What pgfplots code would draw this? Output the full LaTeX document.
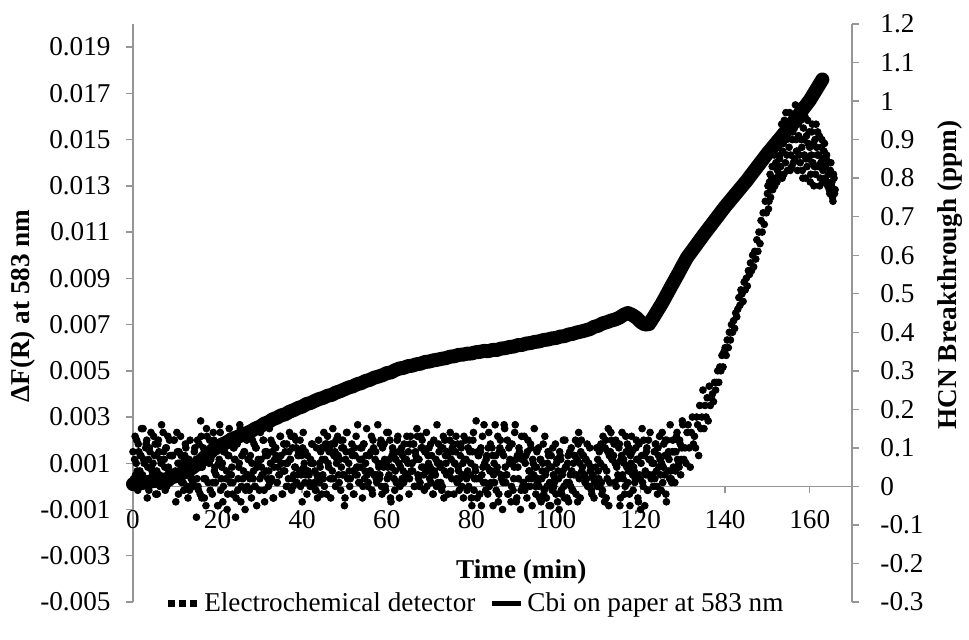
\documentclass[border=0pt]{standalone}
\usepackage{pgfplots}
\pgfplotsset{compat=1.18}
\usepackage{fontspec}
\setmainfont{Liberation Serif}
\definecolor{axgray}{RGB}{150,150,150}
\begin{document}
\fontsize{13.6}{16}\selectfont
\begin{tikzpicture}
\pgfplotsset{
  common/.style={
    scale only axis, width=359.5pt, height=289pt,
    at={(0pt,0pt)}, anchor=south west,
    xmin=0, xmax=170, clip=false,
    axis line style={draw=axgray, line width=0.7pt},
    tick style={draw=axgray, line width=0.7pt},
    major tick length=3.5pt,
    tick align=outside,
    scaled ticks=false,
  }
}
\begin{axis}[common,
  axis x line*=middle, axis y line*=left,
  hide obscured x ticks=false,
  ymin=-0.005, ymax=0.020,
  xtick={0,20,40,60,80,100,120,140,160},
  xticklabels={0,20,40,60,80,100,120,140,160},
  ytick={-0.005,-0.003,-0.001,0.001,0.003,0.005,0.007,0.009,0.011,0.013,0.015,0.017,0.019},
  yticklabels={-0.005,-0.003,-0.001,0.001,0.003,0.005,0.007,0.009,0.011,0.013,0.015,0.017,0.019},
  xticklabel style={yshift=-4pt},
  yticklabel style={xshift=-3pt},
  legend columns=2,
  legend style={at={(0.477,-0.003)}, anchor=center, draw=none, fill=none,
    /tikz/every even column/.append style={column sep=5pt},
    legend cell align=left},
  legend image code/.code={\draw[#1] (0pt,0pt) -- (14.5pt,0pt);},
]
\addlegendimage{black, line width=3.4pt, dash pattern=on 3.4pt off 2.15pt}
\addlegendentry{Electrochemical detector}
\addlegendimage{black, line width=2.5pt}
\addlegendentry{Cbi on paper at 583 nm}
\addplot[black, line width=7pt, line join=round, line cap=round, forget plot] table {
x y
0 0.00010
1 0.00012
2 0.00016
3 0.00017
4 0.00020
5 0.00024
6 0.00025
7 0.00029
8 0.00030
9 0.00038
10 0.00044
11 0.00053
12 0.00060
13 0.00070
14 0.00080
15 0.00094
16 0.00110
17 0.00128
18 0.00142
19 0.00160
20 0.00170
21 0.00181
22 0.00189
23 0.00200
24 0.00209
25 0.00216
26 0.00226
27 0.00231
28 0.00240
29 0.00251
30 0.00258
31 0.00271
32 0.00278
33 0.00290
34 0.00297
35 0.00307
36 0.00312
37 0.00323
38 0.00330
39 0.00339
40 0.00345
41 0.00356
42 0.00361
43 0.00370
44 0.00378
45 0.00383
46 0.00392
47 0.00396
48 0.00406
49 0.00412
50 0.00420
51 0.00428
52 0.00433
53 0.00442
54 0.00447
55 0.00456
56 0.00461
57 0.00470
58 0.00475
59 0.00481
60 0.00490
61 0.00493
62 0.00503
63 0.00510
64 0.00513
65 0.00520
66 0.00522
67 0.00528
68 0.00531
69 0.00538
70 0.00540
71 0.00545
72 0.00548
73 0.00552
74 0.00555
75 0.00561
76 0.00563
77 0.00569
78 0.00570
79 0.00574
80 0.00575
81 0.00580
82 0.00582
83 0.00586
84 0.00585
85 0.00590
86 0.00590
87 0.00596
88 0.00598
89 0.00603
90 0.00605
91 0.00611
92 0.00612
93 0.00618
94 0.00620
95 0.00625
96 0.00627
97 0.00633
98 0.00635
99 0.00640
100 0.00642
101 0.00648
102 0.00650
103 0.00657
104 0.00660
105 0.00666
106 0.00670
107 0.00675
108 0.00680
109 0.00690
110 0.00695
111 0.00705
112 0.00710
113 0.00717
114 0.00722
115 0.00730
116 0.00742
117 0.00750
118 0.00742
119 0.00730
120 0.00712
121 0.00700
122 0.00702
123 0.00730
124 0.00760
125 0.00790
126 0.00823
127 0.00857
128 0.00890
129 0.00923
130 0.00957
131 0.00990
132 0.01015
133 0.01040
134 0.01065
135 0.01090
136 0.01114
137 0.01138
138 0.01162
139 0.01186
140 0.01210
141 0.01232
142 0.01254
143 0.01276
144 0.01298
145 0.01320
146 0.01344
147 0.01368
148 0.01392
149 0.01416
150 0.01440
151 0.01462
152 0.01484
153 0.01506
154 0.01528
155 0.01550
156 0.01574
157 0.01598
158 0.01622
159 0.01646
160 0.01670
161 0.01700
162 0.01730
163 0.01760
};
\node[rotate=90, font=\bfseries] at (rel axis cs:-0.153,0.512) {ΔF(R) at 583 nm};
\node[font=\bfseries] at (rel axis cs:0.540,0.052) {Time (min)};
\node[rotate=90, font=\bfseries] at (rel axis cs:1.136,0.566) {HCN Breakthrough (ppm)};
\end{axis}
\begin{axis}[common,
  axis y line*=right, axis x line=none,
  ymin=-0.3, ymax=1.2,
  ytick={-0.3,-0.2,-0.1,0,0.1,0.2,0.3,0.4,0.5,0.6,0.7,0.8,0.9,1,1.1,1.2},
  yticklabels={-0.3,-0.2,-0.1,0,0.1,0.2,0.3,0.4,0.5,0.6,0.7,0.8,0.9,1,1.1,1.2},
  yticklabel style={xshift=6pt},
]
\addplot[only marks, mark=*, mark size=1.7pt, black] coordinates {
(0,.09)(0.25,.02)(0.5,.13)(0.75,.06)(1,.04)(1.25,.11)(1.5,.00)(1.75,.08)(2,.15)(2.25,.03)(2.5,.07)(2.75,.01)(3,.10)(3.25,.12)(3.5,.05)(3.75,-.01)(4,.09)(4.25,.14)(4.5,.04)(4.75,.06)(5,.02)(5.25,.11)(5.5,.08)(5.75,-.02)(6,.12)(6.25,.03)(6.5,.07)(6.75,.16)(7,.01)(7.25,.09)(7.5,.05)(7.75,.10)(8,.00)(8.25,.13)(8.5,.04)(8.75,.08)(9,.03)(9.25,.08)(9.5,.03)(9.75,.12)
(10,.04)(10.25,.02)(10.5,.09)(10.75,-.02)(11,.06)(11.25,.13)(11.5,.01)(11.75,.05)(12,-.01)(12.25,.08)(12.5,.10)(12.75,.03)(13,-.03)(13.25,.07)(13.5,.12)(13.75,.02)(14,.04)(14.25,.00)(14.5,.09)(14.75,.06)
(15,-.08)(15.25,.12)(15.5,-.01)(15.75,.05)(16,.17)(16.25,-.03)(16.5,.08)(16.75,.02)(17,.09)(17.25,-.05)(17.5,.13)(17.75,.01)(18,.06)(18.25,-.01)(18.5,.08)(18.75,-.02)(19,.14)(19.25,.04)(19.5,.01)(19.75,.10)(20,-.05)(20.25,.06)(20.5,.16)(20.75,-.01)(21,.05)(21.25,-.04)(21.5,.09)(21.75,.12)(22,.02)(22.25,-.06)(22.5,.08)(22.75,.15)(23,.01)(23.25,.03)(23.5,-.02)(23.75,.10)(24,.07)(24.25,-.08)(24.5,.11)(24.75,-.01)(25,.05)(25.25,.16)(25.5,-.04)(25.75,.08)(26,.02)(26.25,.09)(26.5,-.06)(26.75,.13)(27,.00)(27.25,.07)(27.5,-.01)(27.75,.08)(28,-.03)(28.25,.12)(28.5,.04)(28.75,.00)(29,.10)(29.25,-.05)(29.5,.06)(29.75,.15)
(30,.02)(30.25,.07)(30.5,.03)(30.75,.12)(31,-.01)(31.25,.09)(31.5,.04)(31.75,.08)(32,.00)(32.25,.15)(32.5,.06)(32.75,.02)(33,.11)(33.25,-.03)(33.5,.07)(33.75,.10)(34,.01)(34.25,.05)(34.5,.03)(34.75,.13)(35,.08)(35.25,-.02)(35.5,.04)(35.75,.11)(36,.09)(36.25,.00)(36.5,.06)(36.75,.02)(37,.14)(37.25,.07)(37.5,-.01)(37.75,.10)(38,.03)(38.25,.05)(38.5,.12)(38.75,.01)(39,.08)
(39.25,.08)(39.5,.12)(39.75,.03)(40,-.04)(40.25,.14)(40.5,.06)(40.75,.09)(41,.04)(41.25,.08)(41.5,.03)(41.75,.01)(42,.07)(42.25,.11)(42.5,.06)(42.75,.00)(43,.04)(43.25,-.01)(43.5,.03)(43.75,.02)(44,.01)(44.25,.05)(44.5,.10)(44.75,.07)(45,.02)(45.25,.00)(45.5,.11)(45.75,-.02)(46,.13)(46.25,.05)(46.5,.10)(46.75,-.03)(47,.02)(47.25,.15)(47.5,.08)(47.75,.09)(48,.12)(48.25,.07)
(48.5,.08)(48.75,.01)(49,.12)(49.25,.05)(49.5,.03)(49.75,.10)(50,-.05)(50.25,.07)(50.5,.14)(50.75,.02)(51,.06)(51.25,.00)(51.5,.09)(51.75,.11)(52,.04)(52.25,-.02)(52.5,.08)(52.75,.13)(53,.03)(53.25,.05)(53.5,.01)(53.75,.10)(54,.07)(54.25,-.03)(54.5,.11)(54.75,.02)(55,.06)(55.25,.15)(55.5,.00)(55.75,.08)(56,.04)(56.25,.09)(56.5,-.01)(56.75,.12)(57,.03)(57.25,.07)(57.5,.02)
(57.75,.03)(58,.06)(58.25,.02)(58.5,.11)(58.75,.00)(59,.10)(59.25,.05)(59.5,.07)(59.75,-.01)(60,.14)(60.25,.05)(60.5,.03)(60.75,.12)(61,-.04)(61.25,.08)(61.5,.09)(61.75,.02)(62,.04)(62.25,.01)(62.5,.12)(62.75,.09)(63,-.03)(63.25,.05)(63.5,.10)(63.75,.08)(64,.01)(64.25,.07)(64.5,.03)(64.75,.13)(65,.06)(65.25,-.02)(65.5,.11)(65.75,.04)(66,.06)(66.25,.11)(66.5,.00)(66.75,.09)
(67,.07)(67.25,.13)(67.5,.02)(67.75,.00)(68,.13)(68.25,.05)(68.5,.10)(68.75,.03)(69,.09)(69.25,.04)(69.5,.00)(69.75,.08)(70,.10)(70.25,.05)(70.5,.01)(70.75,.03)(71,-.02)(71.25,.04)(71.5,.03)(71.75,.00)(72,.06)(72.25,.11)(72.5,.06)(72.75,.01)(73,-.01)(73.25,.10)(73.5,-.03)(73.75,.12)(74,.06)(74.25,.09)(74.5,-.02)(74.75,.03)(75,.14)(75.25,.07)(75.5,.10)(75.75,.11)(76,.06)
(76.25,.09)(76.5,.02)(76.75,.11)(77,.04)(77.25,.02)(77.5,.11)(77.75,.00)(78,.06)(78.25,.13)(78.5,.03)(78.75,.07)(79,-.01)(79.25,.10)(79.5,.12)(79.75,.03)(80,-.03)(80.25,.09)(80.5,.14)(80.75,.02)(81,.04)(81.25,.02)(81.5,.09)(81.75,.08)(82,-.02)(82.25,.10)(82.5,.03)(82.75,.05)(83,.16)(83.25,.01)(83.5,.07)(83.75,.05)(84,.10)(84.25,.00)(84.5,.11)(84.75,.04)(85,.08)(85.25,.03)
(85.5,.01)(85.75,.08)(86,.04)(86.25,.13)(86.5,-.02)(86.75,.10)(87,.03)(87.25,.09)(87.5,.01)(87.75,.16)(88,.05)(88.25,.03)(88.5,.12)(88.75,-.02)(89,.06)(89.25,.11)(89.5,.00)(89.75,.06)(90,.02)(90.25,.14)(90.5,.07)(90.75,-.03)(91,.05)(91.25,.10)(91.5,.08)(91.75,-.01)(92,.07)(92.25,.01)(92.5,.13)(92.75,.06)(93,.00)(93.25,.09)(93.5,.02)(93.75,.04)(94,.11)(94.25,.02)(94.5,.07)(94.75,.03)
(95,.05)(95.25,-.02)(95.5,.09)(95.75,.02)(96,.00)(96.25,.07)(96.5,-.04)(96.75,.04)(97,.11)(97.25,-.01)(97.5,.03)(97.75,-.03)(98,.06)(98.25,.08)(98.5,.01)(98.75,-.05)(99,.05)(99.25,.10)(99.5,.00)(99.75,.02)(100,-.02)(100.25,.07)(100.5,.04)(100.75,-.06)(101,.08)(101.25,-.01)(101.5,.03)(101.75,.12)(102,-.03)(102.25,.05)(102.5,.01)(102.75,.06)(103,-.04)(103.25,.09)(103.5,.00)(103.75,.04)(104,-.01)(104.25,.03)(104.5,.08)(104.75,-.02)
(105,.07)(105.25,.11)(105.5,.02)(105.75,-.03)(106,.12)(106.25,.05)(106.5,.08)(106.75,.03)(107,.07)(107.25,.02)(107.5,.00)(107.75,.06)(108,.10)(108.25,.05)(108.5,-.02)(108.75,.03)(109,-.03)(109.25,.02)(109.5,.01)(109.75,.00)(110,.04)(110.25,.09)(110.5,.06)(110.75,.01)(111,-.01)(111.25,.10)(111.5,-.04)(111.75,.12)(112,.04)(112.25,.09)(112.5,-.05)(112.75,.01)(113,.14)(113.25,.07)(113.5,.08)(113.75,.11)(114,.06)
(114.25,.00)(114.5,.06)(114.75,.02)(115,.11)(115.25,-.03)(115.5,.08)(115.75,.03)(116,.07)(116.25,-.02)(116.5,.13)(116.75,.05)(117,.01)(117.25,.10)(117.5,-.05)(117.75,.06)(118,.09)(118.25,-.01)(118.5,.04)(118.75,.02)(119,.12)(119.25,.07)(119.5,-.04)(119.75,.03)
(120,-.06)(120.25,.08)(120.5,.01)(120.75,.12)(121,-.05)(121.25,.03)(121.5,.10)(121.75,-.01)(122,.07)(122.25,.14)(122.5,.02)(122.75,.06)(123,.00)(123.25,.09)(123.5,.11)(123.75,.04)(124,-.02)(124.25,.08)(124.5,.13)(124.75,.03)(125,.06)(125.25,.01)(125.5,.11)(125.75,.08)(126,-.02)(126.25,.12)(126.5,.04)(126.75,.07)(127,.16)(127.25,.02)(127.5,.09)(127.75,.05)
(128,.09)(128.25,.04)(128.5,.13)(128.75,.07)(129,.06)(129.25,.12)(129.5,.03)(129.75,.10)(130,.16)(130.25,.07)(130.5,.10)(130.75,.06)(131,.14)(131.25,.16)(131.5,.10)(131.75,.05)(132,.14)(132.25,.18)(132.5,.11)(132.75,.13)(133,.10)(133.25,.18)(133.5,.16)(133.75,.08)(134,.21)(134.25,.15)(134.5,.18)(134.75,.25)(135,.15)(135.25,.21)(135.5,.18)(135.75,.23)(136,.17)(136.25,.26)(136.5,.21)(136.75,.23)
(137,.24)(137.25,.22)(137.5,.27)(137.75,.25)(138,.27)(138.25,.30)(138.5,.27)(138.75,.31)(139,.30)(139.25,.34)(139.5,.31)(139.75,.35)(140,.36)(140.25,.34)(140.5,.38)(140.75,.36)(141,.40)(141.25,.38)(141.5,.42)(141.75,.40)(142,.43)(142.25,.41)(142.5,.45)(142.75,.44)(143,.46)(143.25,.49)(143.5,.47)(143.75,.51)(144,.50)(144.25,.48)(144.5,.53)(144.75,.51)(145,.54)(145.25,.52)(145.5,.56)(145.75,.55)(146,.58)(146.25,.56)(146.5,.60)(146.75,.57)(147,.61)(147.25,.59)(147.5,.64)(147.75,.61)(148,.66)(148.25,.63)(148.5,.69)(148.75,.66)(149,.71)(149.25,.68)(149.5,.74)(149.75,.71)(150,.76)(150.25,.72)(150.5,.79)(150.75,.75)(151,.80)(151.25,.77)(151.5,.83)(151.75,.78)
(152,.84)(152.25,.79)(152.5,.88)(152.75,.81)(153,.86)(153.25,.92)(153.5,.80)(153.75,.89)(154,.95)(154.25,.84)(154.5,.90)(154.75,.82)(155,.93)(155.25,.97)(155.5,.86)(155.75,.83)(156,.92)(156.25,.96)(156.5,.85)(156.75,.90)(157,.87)(157.25,.94)(157.5,.98)(157.75,.84)(158,.90)(158.25,.82)(158.5,.93)(158.75,.86)(159,.80)(159.25,.91)(159.5,.95)(159.75,.85)(160,.88)(160.25,.81)(160.5,.92)(160.75,.84)(161,.78)(161.25,.90)(161.5,.94)(161.75,.86)(162,.83)(162.25,.91)(162.5,.80)(162.75,.88)(163,.85)(163.25,.79)(163.5,.89)(163.75,.83)(164,.86)(164.25,.78)(164.5,.81)(164.75,.76)(165,.84)(165.25,.79)(165.5,.74)(165.75,.80)(166,.77)
(0.125,.02)(0.375,.07)(0.625,.03)(0.875,.12)(1.125,-.01)(1.375,.09)(1.625,.04)(1.875,.08)(2.125,.00)(2.375,.15)(2.625,.06)(2.875,.02)(3.125,.11)(3.375,-.03)(3.625,.07)(3.875,.10)(4.125,.01)(4.375,.05)(4.625,.03)(4.875,.13)(5.125,.08)(5.375,-.02)(5.625,.04)(5.875,.11)(6.125,.09)(6.375,.00)(6.625,.06)(6.875,.02)(7.125,.14)(7.375,.07)(7.625,-.01)(7.875,.10)(8.125,.03)(8.375,.05)(8.625,.12)(8.875,.01)(9.125,.08)
(9.375,.08)(9.625,.12)(9.875,.03)(10.125,-.04)(10.375,.14)(10.625,.06)(10.875,.09)(11.125,.04)(11.375,.08)(11.625,.03)(11.875,.01)(12.125,.07)(12.375,.11)(12.625,.06)(12.875,.00)(13.125,.04)(13.375,-.01)(13.625,.03)(13.875,.02)(14.125,.01)(14.375,.05)(14.625,.10)(14.875,.07)(15.125,.02)(15.375,.00)(15.625,.11)(15.875,-.02)(16.125,.13)(16.375,.05)(16.625,.10)(16.875,-.03)(17.125,.02)(17.375,.15)(17.625,.08)(17.875,.09)(18.125,.12)(18.375,.07)
(18.625,.08)(18.875,.01)(19.125,.12)(19.375,.05)(19.625,.03)(19.875,.10)(20.125,-.05)(20.375,.07)(20.625,.14)(20.875,.02)(21.125,.06)(21.375,.00)(21.625,.09)(21.875,.11)(22.125,.04)(22.375,-.02)(22.625,.08)(22.875,.13)(23.125,.03)(23.375,.05)(23.625,.01)(23.875,.10)(24.125,.07)(24.375,-.03)(24.625,.11)(24.875,.02)(25.125,.06)(25.375,.15)(25.625,.00)(25.875,.08)(26.125,.04)(26.375,.09)(26.625,-.01)(26.875,.12)(27.125,.03)(27.375,.07)(27.625,.02)
(27.875,.03)(28.125,.06)(28.375,.02)(28.625,.11)(28.875,.00)(29.125,.10)(29.375,.05)(29.625,.07)(29.875,-.01)(30.125,.14)(30.375,.05)(30.625,.03)(30.875,.12)(31.125,-.04)(31.375,.08)(31.625,.09)(31.875,.02)(32.125,.04)(32.375,.01)(32.625,.12)(32.875,.09)(33.125,-.03)(33.375,.05)(33.625,.10)(33.875,.08)(34.125,.01)(34.375,.07)(34.625,.03)(34.875,.13)(35.125,.06)(35.375,-.02)(35.625,.11)(35.875,.04)(36.125,.06)(36.375,.11)(36.625,.00)(36.875,.09)
(37.125,.07)(37.375,.13)(37.625,.02)(37.875,.00)(38.125,.13)(38.375,.05)(38.625,.10)(38.875,.03)(39.125,.09)(39.375,.04)(39.625,.00)(39.875,.08)(40.125,.10)(40.375,.05)(40.625,.01)(40.875,.03)(41.125,-.02)(41.375,.04)(41.625,.03)(41.875,.00)(42.125,.06)(42.375,.11)(42.625,.06)(42.875,.01)(43.125,-.01)(43.375,.10)(43.625,-.03)(43.875,.12)(44.125,.06)(44.375,.09)(44.625,-.02)(44.875,.03)(45.125,.14)(45.375,.07)(45.625,.10)(45.875,.11)(46.125,.06)
(46.375,.09)(46.625,.02)(46.875,.11)(47.125,.04)(47.375,.02)(47.625,.11)(47.875,.00)(48.125,.06)(48.375,.13)(48.625,.03)(48.875,.07)(49.125,-.01)(49.375,.10)(49.625,.12)(49.875,.03)(50.125,-.03)(50.375,.09)(50.625,.14)(50.875,.02)(51.125,.04)(51.375,.02)(51.625,.09)(51.875,.08)(52.125,-.02)(52.375,.10)(52.625,.03)(52.875,.05)(53.125,.16)(53.375,.01)(53.625,.07)(53.875,.05)(54.125,.10)(54.375,.00)(54.625,.11)(54.875,.04)(55.125,.08)(55.375,.03)
(55.625,.01)(55.875,.08)(56.125,.04)(56.375,.13)(56.625,-.02)(56.875,.10)(57.125,.03)(57.375,.09)(57.625,.01)(57.875,.16)(58.125,.05)(58.375,.03)(58.625,.12)(58.875,-.02)(59.125,.06)(59.375,.11)(59.625,.00)(59.875,.06)(60.125,.02)(60.375,.14)(60.625,.07)(60.875,-.03)(61.125,.05)(61.375,.10)(61.625,.08)(61.875,-.01)(62.125,.07)(62.375,.01)(62.625,.13)(62.875,.06)(63.125,.00)(63.375,.09)(63.625,.02)(63.875,.04)(64.125,.11)(64.375,.02)(64.625,.07)(64.875,.03)
(65.125,.09)(65.375,.02)(65.625,.13)(65.875,.06)(66.125,.04)(66.375,.11)(66.625,.00)(66.875,.08)(67.125,.15)(67.375,.03)(67.625,.07)(67.875,.01)(68.125,.10)(68.375,.12)(68.625,.05)(68.875,-.01)(69.125,.09)(69.375,.14)(69.625,.04)(69.875,.06)(70.125,.02)(70.375,.11)(70.625,.08)(70.875,-.02)(71.125,.12)(71.375,.03)(71.625,.07)(71.875,.16)(72.125,.01)(72.375,.09)(72.625,.05)(72.875,.10)(73.125,.00)(73.375,.13)(73.625,.04)(73.875,.08)(74.125,.03)(74.375,.08)(74.625,.03)(74.875,.12)
(75.125,.04)(75.375,.02)(75.625,.09)(75.875,-.02)(76.125,.06)(76.375,.13)(76.625,.01)(76.875,.05)(77.125,-.01)(77.375,.08)(77.625,.10)(77.875,.03)(78.125,-.03)(78.375,.07)(78.625,.12)(78.875,.02)(79.125,.04)(79.375,.00)(79.625,.09)(79.875,.06)
(80.125,-.05)(80.375,.12)(80.625,-.01)(80.875,.05)(81.125,.17)(81.375,-.03)(81.625,.08)(81.875,.02)(82.125,.09)(82.375,-.05)(82.625,.13)(82.875,.01)(83.125,.06)(83.375,-.01)(83.625,.08)(83.875,-.02)(84.125,.14)(84.375,.04)(84.625,.01)(84.875,.10)(85.125,-.05)(85.375,.06)(85.625,.16)(85.875,-.01)(86.125,.05)(86.375,-.04)(86.625,.09)(86.875,.12)(87.125,.02)(87.375,-.06)(87.625,.08)(87.875,.15)(88.125,.01)(88.375,.03)(88.625,-.02)(88.875,.10)(89.125,.07)(89.375,-.04)(89.625,.11)(89.875,-.01)(90.125,.05)(90.375,.16)(90.625,-.04)(90.875,.08)(91.125,.02)(91.375,.09)(91.625,-.06)(91.875,.13)(92.125,.00)(92.375,.07)(92.625,-.01)(92.875,.08)(93.125,-.03)(93.375,.12)(93.625,.04)(93.875,.00)(94.125,.10)(94.375,-.05)(94.625,.06)(94.875,.15)
(95.125,.00)(95.375,.05)(95.625,.01)(95.875,.10)(96.125,-.03)(96.375,.07)(96.625,.02)(96.875,.06)(97.125,-.02)(97.375,.13)(97.625,.04)(97.875,.00)(98.125,.09)(98.375,-.05)(98.625,.05)(98.875,.08)(99.125,-.01)(99.375,.03)(99.625,.01)(99.875,.11)(100.125,.06)(100.375,-.04)(100.625,.02)(100.875,.09)(101.125,.07)(101.375,-.02)(101.625,.04)(101.875,.00)(102.125,.12)(102.375,.05)(102.625,-.03)(102.875,.08)(103.125,.01)(103.375,.03)(103.625,.10)(103.875,-.01)(104.125,.06)
(104.375,.08)(104.625,.12)(104.875,.03)(105.125,-.04)(105.375,.14)(105.625,.06)(105.875,.09)(106.125,.04)(106.375,.08)(106.625,.03)(106.875,.01)(107.125,.07)(107.375,.11)(107.625,.06)(107.875,.00)(108.125,.04)(108.375,-.01)(108.625,.03)(108.875,.02)(109.125,.01)(109.375,.05)(109.625,.10)(109.875,.07)(110.125,.02)(110.375,.00)(110.625,.11)(110.875,-.02)(111.125,.13)(111.375,.05)(111.625,.10)(111.875,-.03)(112.125,.02)(112.375,.15)(112.625,.08)(112.875,.09)(113.125,.12)(113.375,.07)
(113.625,.08)(113.875,.01)(114.125,.12)(114.375,.05)(114.625,.03)(114.875,.10)(115.125,-.05)(115.375,.07)(115.625,.14)(115.875,.02)(116.125,.06)(116.375,.00)(116.625,.09)(116.875,.11)(117.125,.04)(117.375,-.02)(117.625,.08)(117.875,.13)(118.125,.03)(118.375,.05)(118.625,.01)(118.875,.10)(119.125,.07)(119.375,-.03)(119.625,.11)(119.875,.02)(120.125,.06)(120.375,.15)(120.625,.00)(120.875,.08)(121.125,.04)(121.375,.09)(121.625,-.01)(121.875,.12)(122.125,.03)(122.375,.07)(122.625,.02)
(122.875,.03)(123.125,.06)(123.375,.02)(123.625,.11)(123.875,.00)(124.125,.10)(124.375,.05)(124.625,.07)(124.875,-.01)(125.125,.14)(125.375,.05)(125.625,.03)(125.875,.12)(126.125,-.04)(126.375,.08)(126.625,.09)(126.875,.02)(127.125,.04)(127.375,.01)(127.625,.12)(127.875,.09)(128.125,.01)(128.375,.09)(128.625,.14)(128.875,.12)(129.125,.05)(129.375,.11)(129.625,.07)(129.875,.17)
(150.125,.78)(150.375,.74)(150.625,.81)(150.875,.77)(151.125,.83)(151.375,.79)(151.625,.86)(151.875,.80)(152.125,.88)(152.375,.82)(152.625,.91)(152.875,.85)(153.125,.83)(153.375,.94)(153.625,.87)(153.875,.81)(154.125,.91)(154.375,.97)(154.625,.86)(154.875,.92)(155.125,.88)(155.375,.82)(155.625,.95)(155.875,.90)(156.125,.84)(156.375,.93)(156.625,.99)(156.875,.87)(157.125,.82)(157.375,.91)(157.625,.86)(157.875,.95)(158.125,.88)(158.375,.80)(158.625,.90)(158.875,.96)(159.125,.85)(159.375,.83)(159.625,.89)(159.875,.92)(160.125,.79)(160.375,.86)(160.625,.94)(160.875,.89)(161.125,.83)(161.375,.81)(161.625,.88)(161.875,.92)(162.125,.86)(162.375,.78)(162.625,.84)(162.875,.90)(163.125,.82)(163.375,.87)(163.625,.80)(163.875,.85)(164.125,.79)(164.375,.84)(164.625,.77)(164.875,.82)(165.125,.78)(165.375,.75)(165.625,.81)(165.875,.76)
};
\end{axis}
\pgfresetboundingbox
\path[use as bounding box] (-66.5pt,-18.5pt) rectangle (418pt,301pt);
\end{tikzpicture}
\end{document}
